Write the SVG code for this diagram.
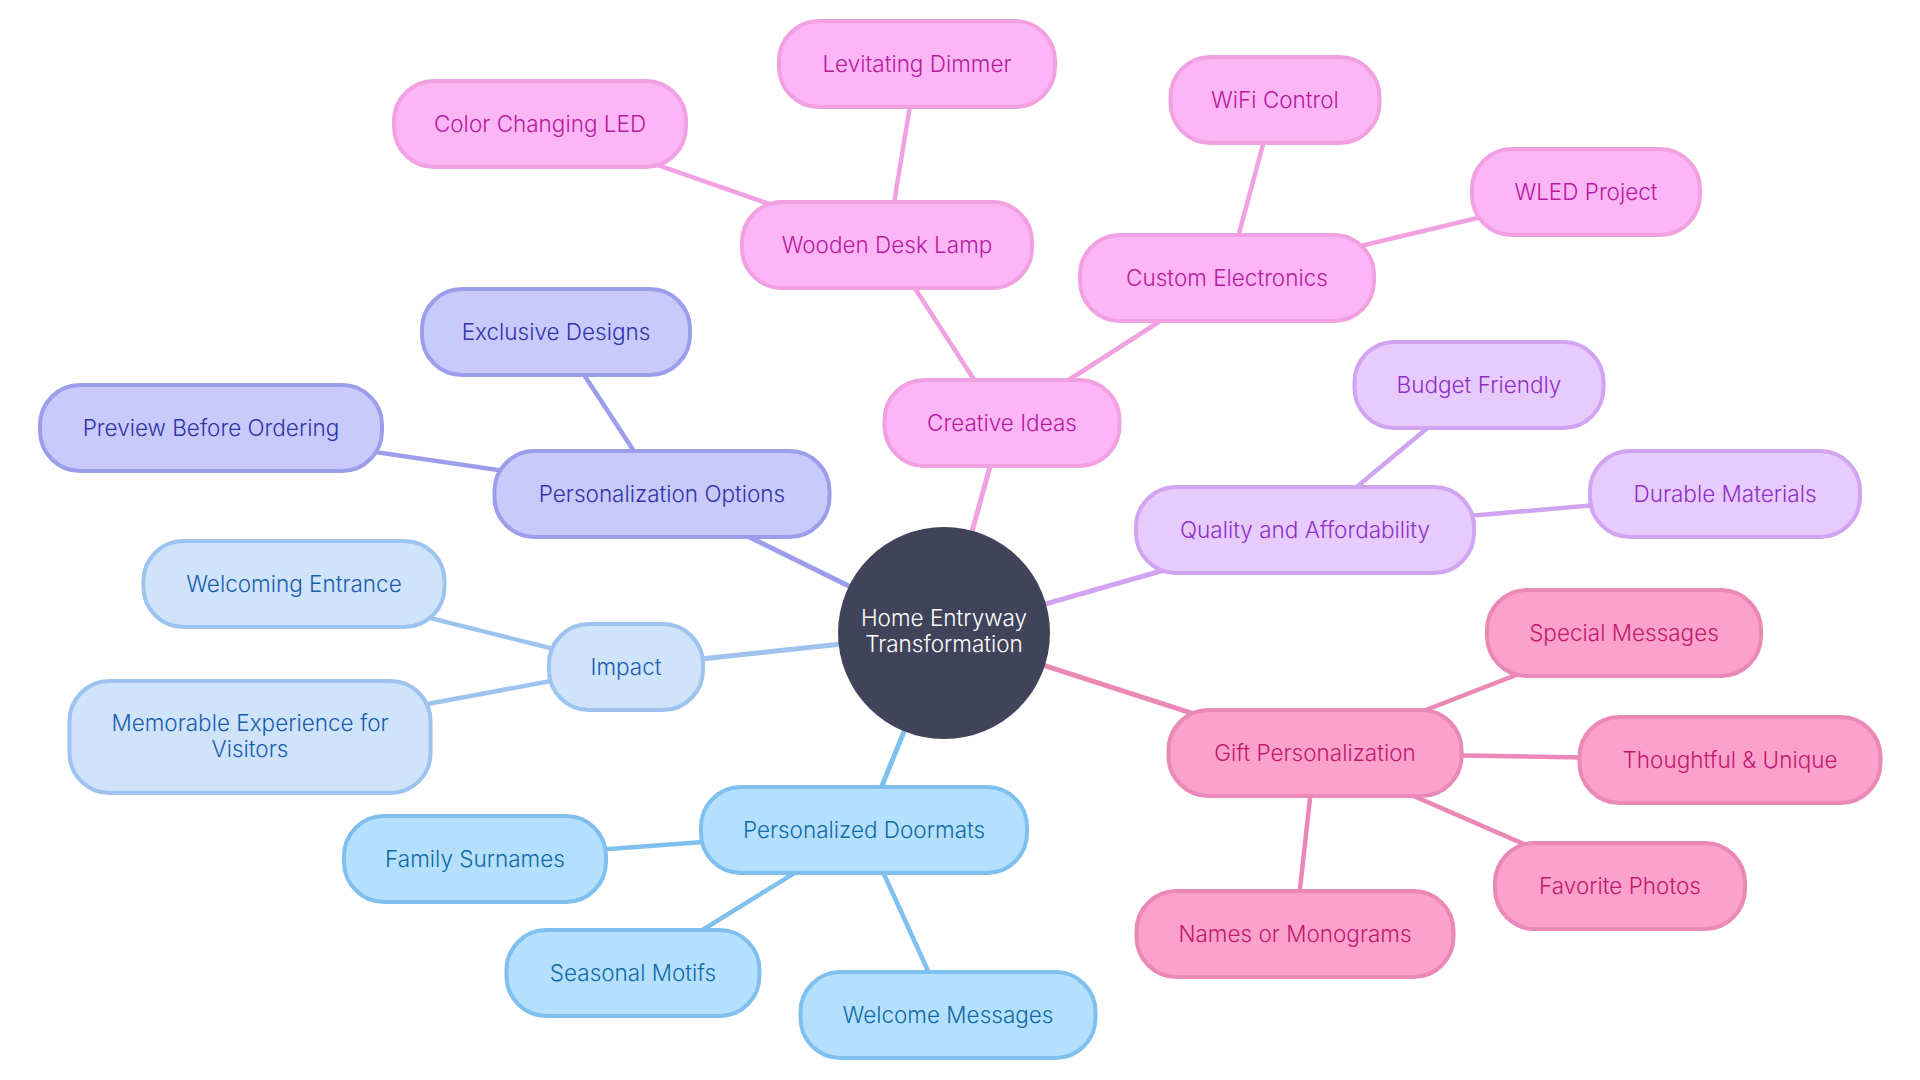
<svg xmlns="http://www.w3.org/2000/svg" width="1920" height="1080" viewBox="0 0 1920 1080">
<style>
text{font-family:Inter,"Noto Sans",sans-serif;font-size:22.5px;text-anchor:middle;font-weight:300}
rect{stroke-width:4}
.e0{stroke-width:5;fill:none;stroke-linecap:round}
.e1{stroke-width:4.5;fill:none;stroke-linecap:round}
.pk rect{fill:#FDB6F5;stroke:#F1A0E2}.pk text{fill:#B8199F}
.in rect{fill:#C9CAFC;stroke:#9B9EEA}.in text{fill:#2F34A8}
.lb rect{fill:#CFE4FB;stroke:#9DC3EE}.lb text{fill:#1A5CB0}
.sk rect{fill:#B5E0FD;stroke:#80C0EE}.sk text{fill:#0F6AA8}
.lv rect{fill:#E8CBFD;stroke:#D0A4F1}.lv text{fill:#8E2FC9}
.rs rect{fill:#FCA1CC;stroke:#EA88B8}.rs text{fill:#C2186E}
</style>
<rect width="1920" height="1080" fill="#ffffff" style="stroke:none"/>
<g id="connectors">
<line class="e0" x1="944" y1="633" x2="1002" y2="423" stroke="#F1A0E2"/>
<line class="e1" x1="1002" y1="423" x2="887" y2="245" stroke="#F1A0E2"/>
<line class="e1" x1="1002" y1="423" x2="1227" y2="278" stroke="#F1A0E2"/>
<line class="e1" x1="887" y1="245" x2="540" y2="124" stroke="#F1A0E2"/>
<line class="e1" x1="887" y1="245" x2="917" y2="64" stroke="#F1A0E2"/>
<line class="e1" x1="1227" y1="278" x2="1275" y2="100" stroke="#F1A0E2"/>
<line class="e1" x1="1227" y1="278" x2="1586" y2="192" stroke="#F1A0E2"/>
<line class="e0" x1="944" y1="633" x2="662" y2="494" stroke="#9B9EEA"/>
<line class="e1" x1="662" y1="494" x2="556" y2="332" stroke="#9B9EEA"/>
<line class="e1" x1="662" y1="494" x2="211" y2="428" stroke="#9B9EEA"/>
<line class="e0" x1="944" y1="633" x2="626" y2="667" stroke="#9DC3EE"/>
<line class="e1" x1="626" y1="667" x2="294" y2="584" stroke="#9DC3EE"/>
<line class="e1" x1="626" y1="667" x2="250" y2="737" stroke="#9DC3EE"/>
<line class="e0" x1="944" y1="633" x2="864" y2="830" stroke="#80C0EE"/>
<line class="e1" x1="864" y1="830" x2="475" y2="859" stroke="#80C0EE"/>
<line class="e1" x1="864" y1="830" x2="633" y2="973" stroke="#80C0EE"/>
<line class="e1" x1="864" y1="830" x2="948" y2="1015" stroke="#80C0EE"/>
<line class="e0" x1="944" y1="633" x2="1305" y2="530" stroke="#D0A4F1"/>
<line class="e1" x1="1305" y1="530" x2="1479" y2="385" stroke="#D0A4F1"/>
<line class="e1" x1="1305" y1="530" x2="1725" y2="494" stroke="#D0A4F1"/>
<line class="e0" x1="944" y1="633" x2="1315" y2="753" stroke="#EA88B8"/>
<line class="e1" x1="1315" y1="753" x2="1624" y2="633" stroke="#EA88B8"/>
<line class="e1" x1="1315" y1="753" x2="1730" y2="760" stroke="#EA88B8"/>
<line class="e1" x1="1315" y1="753" x2="1620" y2="886" stroke="#EA88B8"/>
<line class="e1" x1="1315" y1="753" x2="1295" y2="934" stroke="#EA88B8"/>
</g>
<g id="root">
<circle cx="944" cy="633" r="106" fill="#404359"/>
<text x="944" y="626" fill="#ffffff">Home Entryway</text>
<text x="944" y="652" fill="#ffffff">Transformation</text>
</g>
<g id="creative-ideas" class="pk"><rect x="884.5" y="380" width="235" height="86" rx="40"/><text x="1002" y="431">Creative Ideas</text></g>
<g id="wooden-desk-lamp" class="pk"><rect x="742" y="202" width="290" height="86" rx="40"/><text x="887" y="253">Wooden Desk Lamp</text></g>
<g id="color-changing-led" class="pk"><rect x="394" y="81" width="292" height="86" rx="40"/><text x="540" y="132">Color Changing LED</text></g>
<g id="levitating-dimmer" class="pk"><rect x="779" y="21" width="276" height="86" rx="40"/><text x="917" y="72">Levitating Dimmer</text></g>
<g id="custom-electronics" class="pk"><rect x="1080" y="235" width="294" height="86" rx="40"/><text x="1227" y="286">Custom Electronics</text></g>
<g id="wifi-control" class="pk"><rect x="1170.5" y="57" width="209" height="86" rx="40"/><text x="1275" y="108">WiFi Control</text></g>
<g id="wled-project" class="pk"><rect x="1472" y="149" width="228" height="86" rx="40"/><text x="1586" y="200">WLED Project</text></g>
<g id="personalization-options" class="in"><rect x="494.5" y="451" width="335" height="86" rx="40"/><text x="662" y="502">Personalization Options</text></g>
<g id="exclusive-designs" class="in"><rect x="422" y="289" width="268" height="86" rx="40"/><text x="556" y="340">Exclusive Designs</text></g>
<g id="preview-before-ordering" class="in"><rect x="40" y="385" width="342" height="86" rx="40"/><text x="211" y="436">Preview Before Ordering</text></g>
<g id="impact" class="lb"><rect x="549" y="624" width="154" height="86" rx="40"/><text x="626" y="675">Impact</text></g>
<g id="welcoming-entrance" class="lb"><rect x="143.5" y="541" width="301" height="86" rx="40"/><text x="294" y="592">Welcoming Entrance</text></g>
<g id="memorable-experience" class="lb"><rect x="69.5" y="681" width="361" height="112" rx="40"/><text x="250" y="731">Memorable Experience for</text><text x="250" y="757">Visitors</text></g>
<g id="personalized-doormats" class="sk"><rect x="701" y="787" width="326" height="86" rx="40"/><text x="864" y="838">Personalized Doormats</text></g>
<g id="family-surnames" class="sk"><rect x="344" y="816" width="262" height="86" rx="40"/><text x="475" y="867">Family Surnames</text></g>
<g id="seasonal-motifs" class="sk"><rect x="506.5" y="930" width="253" height="86" rx="40"/><text x="633" y="981">Seasonal Motifs</text></g>
<g id="welcome-messages" class="sk"><rect x="800.5" y="972" width="295" height="86" rx="40"/><text x="948" y="1023">Welcome Messages</text></g>
<g id="quality-affordability" class="lv"><rect x="1136" y="487" width="338" height="86" rx="40"/><text x="1305" y="538">Quality and Affordability</text></g>
<g id="budget-friendly" class="lv"><rect x="1354.5" y="342" width="249" height="86" rx="40"/><text x="1479" y="393">Budget Friendly</text></g>
<g id="durable-materials" class="lv"><rect x="1590" y="451" width="270" height="86" rx="40"/><text x="1725" y="502">Durable Materials</text></g>
<g id="gift-personalization" class="rs"><rect x="1168.5" y="710" width="293" height="86" rx="40"/><text x="1315" y="761">Gift Personalization</text></g>
<g id="special-messages" class="rs"><rect x="1487" y="590" width="274" height="86" rx="40"/><text x="1624" y="641">Special Messages</text></g>
<g id="thoughtful-unique" class="rs"><rect x="1579.5" y="717" width="301" height="86" rx="40"/><text x="1730" y="768">Thoughtful &amp; Unique</text></g>
<g id="favorite-photos" class="rs"><rect x="1495" y="843" width="250" height="86" rx="40"/><text x="1620" y="894">Favorite Photos</text></g>
<g id="names-monograms" class="rs"><rect x="1136.5" y="891" width="317" height="86" rx="40"/><text x="1295" y="942">Names or Monograms</text></g>
</svg>
